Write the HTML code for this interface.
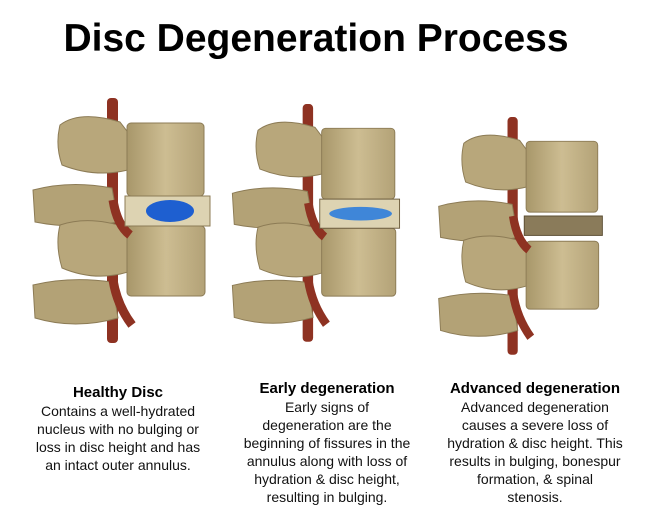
<!DOCTYPE html>
<html><head><style>
body{margin:0;width:660px;height:520px;background:#fff;overflow:hidden;font-family:"Liberation Sans",sans-serif;position:relative}
h1{position:absolute;left:0;width:632px;top:17px;margin:0;text-align:center;font-size:39px;font-weight:bold;color:#000}
.c{position:absolute;text-align:center;font-size:14px;line-height:18px;color:#111}
.c b{font-size:15px;color:#000}
</style></head><body>
<h1>Disc Degeneration Process</h1>
<svg width="660" height="520" style="position:absolute;left:0;top:0">
<defs>
<linearGradient id="b" x1="0" x2="1"><stop offset="0" stop-color="#a8976a"/><stop offset="0.5" stop-color="#cdbd92"/><stop offset="1" stop-color="#b3a277"/></linearGradient>
<g id="seg">
<rect x="107" y="98" width="11" height="245" rx="4" fill="#8e3222"/>
<path d="M60 125 Q80 110 120 122 L130 135 L128 170 Q95 178 62 165 Q55 145 60 125Z" fill="#b8a77b" stroke="#8c7b55"/>
<path d="M33 190 Q70 180 112 188 L118 222 Q75 230 35 222Z" fill="#b3a276" stroke="#8c7b55"/>
<path d="M60 225 Q90 215 128 228 L128 272 Q95 282 62 268 Q55 245 60 225Z" fill="#b8a77b" stroke="#8c7b55"/>
<path d="M33 285 Q70 276 112 282 L118 318 Q75 330 35 318Z" fill="#b3a276" stroke="#8c7b55"/>
<rect x="127" y="123" width="77" height="73" rx="4" fill="url(#b)" stroke="#8c7b55"/>
<rect x="127" y="226" width="78" height="70" rx="4" fill="url(#b)" stroke="#8c7b55"/>
<path d="M113 280 Q117 305 132 325" stroke="#8e3222" stroke-width="9" fill="none"/>
<path d="M113 200 Q117 225 130 235" stroke="#8e3222" stroke-width="9" fill="none"/>
</g>
</defs>
<g><use href="#seg"/>
<rect x="125" y="196" width="85" height="30" fill="#ddd3b2" stroke="#8c7b55"/>
<ellipse cx="170" cy="211" rx="24" ry="11" fill="#1e5fd0"/></g>
<g transform="translate(201,9) scale(0.95,0.97)"><use href="#seg"/>
<rect x="125" y="196" width="84" height="30" fill="#ddd3b2" stroke="#6f5f40"/>
<ellipse cx="168" cy="211" rx="33" ry="7" fill="#3f86d8"/></g>
<g transform="translate(408,22) scale(0.93,0.97)"><use href="#seg"/>
<rect x="125" y="200" width="84" height="20" fill="#8a7b5a" stroke="#5a4c32"/></g>
</svg>
<div class="c" style="left:18px;width:200px;top:383px"><b>Healthy Disc</b><br>Contains a well-hydrated<br>nucleus with no bulging or<br>loss in disc height and has<br>an intact outer annulus.</div>
<div class="c" style="left:227px;width:200px;top:379px"><b>Early degeneration</b><br>Early signs of<br>degeneration are the<br>beginning of fissures in the<br>annulus along with loss of<br>hydration &amp; disc height,<br>resulting in bulging.</div>
<div class="c" style="left:435px;width:200px;top:379px"><b>Advanced degeneration</b><br>Advanced degeneration<br>causes a severe loss of<br>hydration &amp; disc height. This<br>results in bulging, bonespur<br>formation, &amp; spinal<br>stenosis.</div>
</body></html>
